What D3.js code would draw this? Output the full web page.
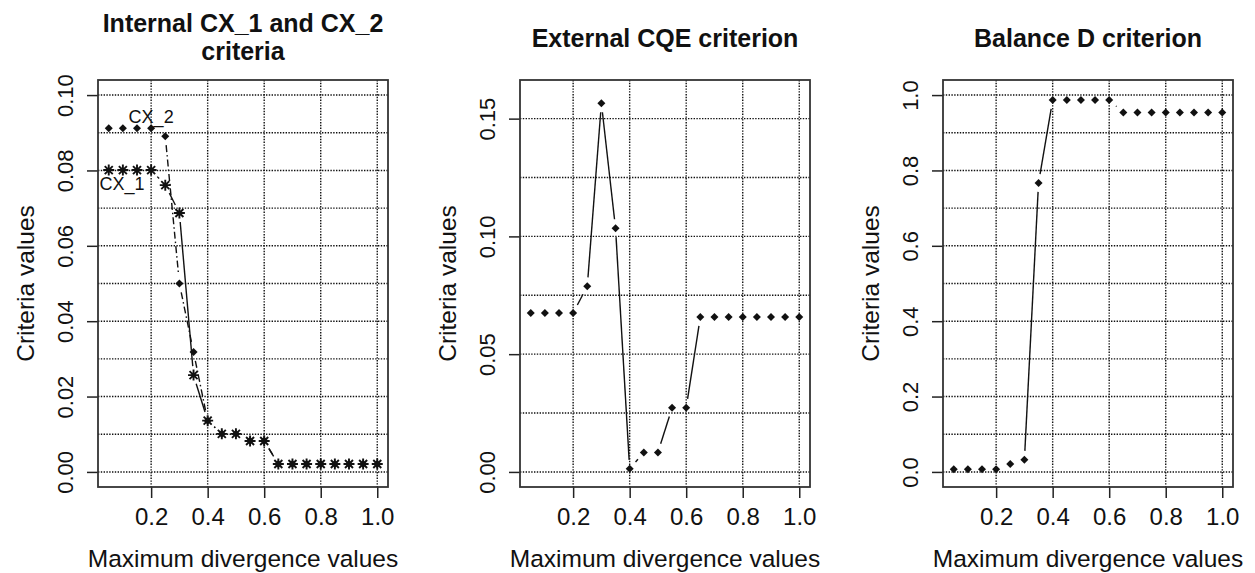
<!DOCTYPE html>
<meta charset="utf-8">

<head>
    <title>Criteria vs maximum divergence</title>
</head>

<style>
    body {
        margin: 0;
        background-color: #ffffff;
        font-family: "Liberation Sans", Arial, sans-serif;
    }

    .grid line {
        stroke: #111111;
        stroke-width: 1.4px;
        stroke-dasharray: 1.4, 1.4;
    }

    .frame {
        fill: none;
        stroke: #333333;
        stroke-width: 1.8px;
    }

    .tick line {
        stroke: #222222;
        stroke-width: 1.5px;
    }

    .seg {
        stroke: #111111;
        stroke-width: 1.4px;
        fill: none;
    }

    text.title {
        font-size: 25px;
        font-weight: 700;
        fill: #111111;
    }
</style>

<body>
    <svg width="1255" height="573"></svg>
</body>

<script src="https://d3js.org/d3.v7.min.js"></script>

<script>
    // maximum divergence values (x axis, shared by all three panels)
    var divergence = [0.05, 0.10, 0.15, 0.20, 0.25, 0.30, 0.35, 0.40, 0.45, 0.50,
        0.55, 0.60, 0.65, 0.70, 0.75, 0.80, 0.85, 0.90, 0.95, 1.00];

    // internal criteria
    var cx1 = [0.0801, 0.0801, 0.0801, 0.0801, 0.0761, 0.0687, 0.0257, 0.0136, 0.0101, 0.0101,
        0.0082, 0.0082, 0.0021, 0.0021, 0.0021, 0.0021, 0.0021, 0.0021, 0.0021, 0.0021];
    var cx2 = [0.0912, 0.0912, 0.0912, 0.0912, 0.0891, 0.0500, 0.0318, 0.0136, 0.0101, 0.0101,
        0.0083, 0.0083, 0.0021, 0.0021, 0.0021, 0.0021, 0.0021, 0.0021, 0.0021, 0.0021];

    // external CQE criterion
    var cqe = [0.0675, 0.0675, 0.0675, 0.0675, 0.0788, 0.1565, 0.1035, 0.0013, 0.0083, 0.0083,
        0.0272, 0.0272, 0.0658, 0.0658, 0.0658, 0.0658, 0.0658, 0.0658, 0.0658, 0.0658];

    // balance D criterion
    var balanceD = [0.007, 0.007, 0.007, 0.007, 0.021, 0.032, 0.767, 0.987, 0.987, 0.987,
        0.987, 0.987, 0.954, 0.954, 0.954, 0.954, 0.954, 0.954, 0.954, 0.954];

    // tick labels
    var xTicks = [0.2, 0.4, 0.6, 0.8, 1.0];
    var yTicks1 = [0.00, 0.02, 0.04, 0.06, 0.08, 0.10];
    var yTicks2 = [0.00, 0.05, 0.10, 0.15];
    var yTicks3 = [0.0, 0.2, 0.4, 0.6, 0.8, 1.0];

    // horizontal grid lines
    var yGrid1 = [0.00, 0.01, 0.02, 0.03, 0.04, 0.05, 0.06, 0.07, 0.08, 0.09, 0.10];
    var yGrid2 = [0.000, 0.025, 0.050, 0.075, 0.100, 0.125, 0.150];
    var yGrid3 = [0.0, 0.1, 0.2, 0.3, 0.4, 0.5, 0.6, 0.7, 0.8, 0.9, 1.0];

    var svg = d3.select("svg");

    var plotTop = 80,
        plotBottom = 487,
        plotWidth = 290;

    var panels = [{
        left: 98,
        title: ["Internal CX_1 and CX_2", "criteria"],
        yDomain: [-0.004, 0.104],
        yTicks: yTicks1,
        yGrid: yGrid1,
        fmt: d3.format(".2f"),
        series: [
            { values: cx2, marker: "diamond", dash: "7,3,1.5,3" },
            { values: cx1, marker: "asterisk", dash: null }
        ],
        notes: [
            { text: "CX_2", x: 0.2, y: 0.0942 },
            { text: "CX_1", x: 0.097, y: 0.0764 }
        ]
    }, {
        left: 520,
        title: ["External CQE criterion"],
        yDomain: [-0.0064, 0.1664],
        yTicks: yTicks2,
        yGrid: yGrid2,
        fmt: d3.format(".2f"),
        series: [{ values: cqe, marker: "diamond", dash: null }],
        notes: []
    }, {
        left: 943,
        title: ["Balance D criterion"],
        yDomain: [-0.04, 1.04],
        yTicks: yTicks3,
        yGrid: yGrid3,
        fmt: d3.format(".1f"),
        series: [{ values: balanceD, marker: "diamond", dash: null }],
        notes: []
    }];

    var diamondPath = "M0,-4L4,0L0,4L-4,0Z";
    var asteriskPath = "M-5.5,0L5.5,0M0,-5.5L0,5.5M-4,-4L4,4M-4,4L4,-4";

    // R type="b": lines between points, leaving a gap around each point
    function gapSegments(xs, ys, x, y, gap) {
        var segs = [];
        for (var i = 1; i < xs.length; i++) {
            var x0 = x(xs[i - 1]), y0 = y(ys[i - 1]),
                x1 = x(xs[i]), y1 = y(ys[i]);
            var dx = x1 - x0, dy = y1 - y0;
            var len = Math.sqrt(dx * dx + dy * dy);
            if (len <= 2 * gap) continue;
            var ux = dx / len, uy = dy / len;
            segs.push([x0 + ux * gap, y0 + uy * gap, x1 - ux * gap, y1 - uy * gap]);
        }
        return segs;
    }

    panels.forEach(function (p) {
        var x = d3.scaleLinear()
            .domain([0.012, 1.038])
            .range([p.left, p.left + plotWidth]);

        var y = d3.scaleLinear()
            .domain(p.yDomain)
            .range([plotBottom, plotTop]);

        var g = svg.append("g");
        var cx = p.left + plotWidth / 2;

        // grid
        var grid = g.append("g").attr("class", "grid");
        grid.selectAll("line.h")
            .data(p.yGrid)
            .enter()
            .append("line")
            .attr("class", "h")
            .attr("x1", p.left)
            .attr("x2", p.left + plotWidth)
            .attr("y1", d => y(d))
            .attr("y2", d => y(d));
        grid.selectAll("line.v")
            .data(xTicks)
            .enter()
            .append("line")
            .attr("class", "v")
            .attr("x1", d => x(d))
            .attr("x2", d => x(d))
            .attr("y1", plotTop)
            .attr("y2", plotBottom);

        // axes
        var xAxis = g.append("g")
            .attr("transform", "translate(0," + plotBottom + ")")
            .call(d3.axisBottom(x).tickValues(xTicks).tickSize(11).tickPadding(9).tickFormat(d3.format(".1f")));
        xAxis.select(".domain").remove();
        xAxis.selectAll("text")
            .attr("font-family", "Liberation Sans, Arial")
            .attr("font-size", 24)
            .attr("fill", "#111")
            .attr("dy", null)
            .attr("y", 38);

        var yAxis = g.append("g")
            .attr("transform", "translate(" + p.left + ",0)")
            .call(d3.axisLeft(y).tickValues(p.yTicks).tickSize(11).tickFormat(p.fmt));
        yAxis.select(".domain").remove();
        yAxis.selectAll("text")
            .attr("font-family", "Liberation Sans, Arial")
            .attr("font-size", 22)
            .attr("fill", "#111")
            .attr("x", null)
            .attr("dy", null)
            .attr("text-anchor", "middle")
            .attr("transform", "translate(-25,0) rotate(-90)");

        // frame
        g.append("rect")
            .attr("class", "frame")
            .attr("x", p.left)
            .attr("y", plotTop)
            .attr("width", plotWidth)
            .attr("height", plotBottom - plotTop);

        // series
        p.series.forEach(function (s) {
            var segs = gapSegments(divergence, s.values, x, y, 9);
            g.selectAll(null)
                .data(segs)
                .enter()
                .append("line")
                .attr("class", "seg")
                .attr("x1", d => d[0])
                .attr("y1", d => d[1])
                .attr("x2", d => d[2])
                .attr("y2", d => d[3])
                .attr("stroke-dasharray", s.dash);

            var pts = g.selectAll(null)
                .data(s.values)
                .enter()
                .append("path")
                .attr("transform", (d, i) => "translate(" + x(divergence[i]) + "," + y(d) + ")");
            if (s.marker == "diamond") {
                pts.attr("d", diamondPath).attr("fill", "#111");
            } else {
                pts.attr("d", asteriskPath)
                    .attr("fill", "none")
                    .attr("stroke", "#111")
                    .attr("stroke-width", 1.9);
            }
        });

        // annotations
        g.selectAll("text.note")
            .data(p.notes)
            .enter()
            .append("text")
            .attr("class", "note")
            .attr("x", d => x(d.x))
            .attr("y", d => y(d.y))
            .attr("dy", "0.35em")
            .attr("text-anchor", "middle")
            .attr("font-size", 18)
            .attr("fill", "#111")
            .text(d => d.text);

        // title
        var title = g.append("text")
            .attr("class", "title")
            .attr("text-anchor", "middle")
            .attr("x", cx)
            .attr("y", p.title.length > 1 ? 32 : 47);
        title.selectAll("tspan")
            .data(p.title)
            .enter()
            .append("tspan")
            .attr("x", cx)
            .attr("dy", (d, i) => i * 28)
            .text(d => d);

        // axis titles
        g.append("text")
            .attr("text-anchor", "middle")
            .attr("x", cx)
            .attr("y", 567)
            .attr("font-size", 24.5)
            .attr("fill", "#111")
            .text("Maximum divergence values");

        g.append("text")
            .attr("text-anchor", "middle")
            .attr("transform", "translate(" + (p.left - 64) + "," + ((plotTop + plotBottom) / 2) + ") rotate(-90)")
            .attr("font-size", 24.5)
            .attr("fill", "#111")
            .text("Criteria values");
    });
</script>
